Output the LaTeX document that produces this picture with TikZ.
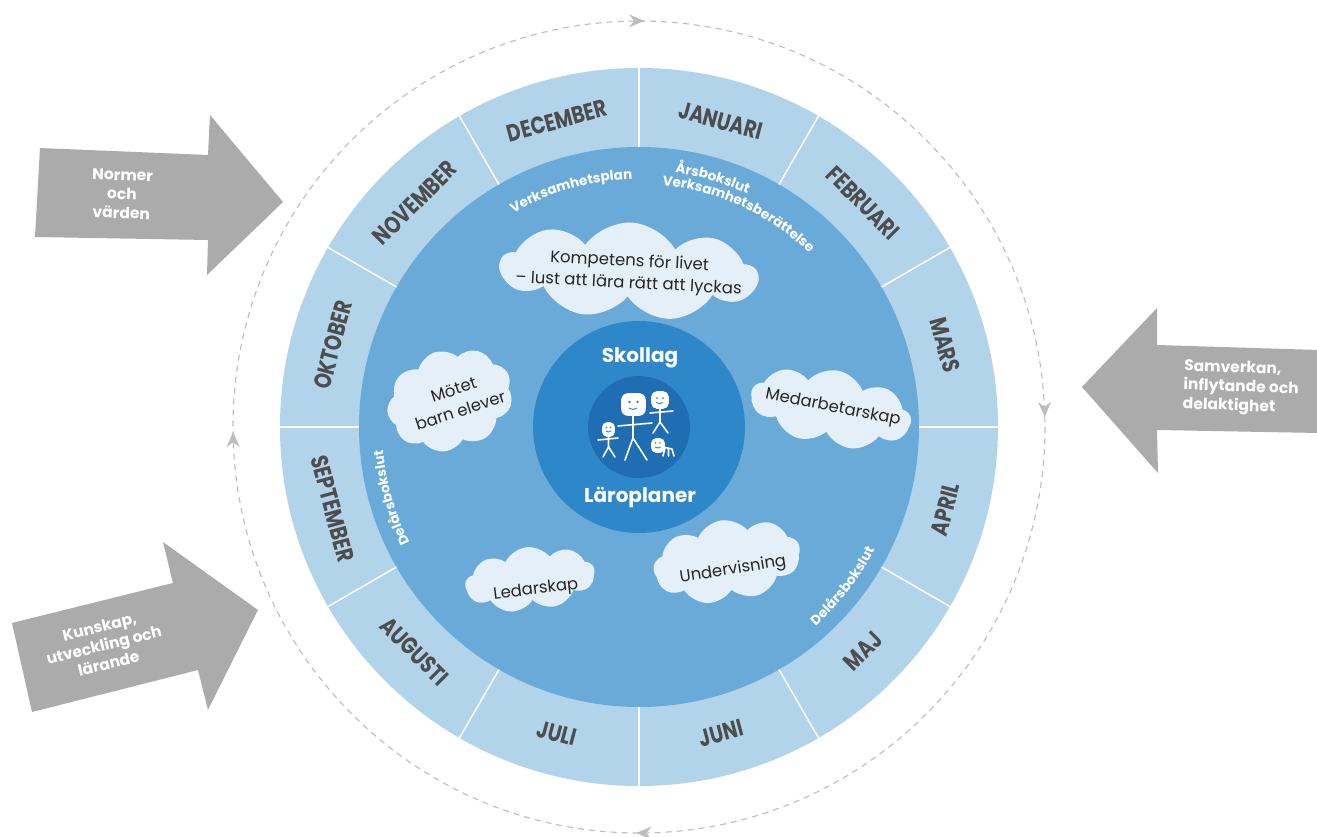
\documentclass[tikz,border=0pt]{standalone}
\usepackage{fontspec}
\usepackage{graphicx}
\setmainfont{Poppins}
\usetikzlibrary{shapes.symbols,decorations.text,decorations.markings,arrows.meta}

\definecolor{ringblue}{HTML}{B2D4EA}
\definecolor{midblue}{HTML}{6AAAD8}
\definecolor{coreblue}{HTML}{2E87C8}
\definecolor{deepblue}{HTML}{1F6DB3}
\definecolor{cloudwhite}{HTML}{E4EFF8}
\definecolor{monthgray}{HTML}{4D4D4D}
\definecolor{arrowgray}{HTML}{ABABAB}
\definecolor{dashgray}{HTML}{BDBDBD}

\newcommand\labelfont{\bfseries\fontsize{13.5}{14}\selectfont}

\tikzset{
  month/.style={font=\bfseries\fontsize{24}{24}\selectfont, text=monthgray},
  puff/.style={cloud, cloud puffs=9, cloud puff arc=115, cloud ignores aspect, fill=cloudwhite, draw=none, inner sep=0pt},
  cloudtext/.style={font=\fontsize{16.5}{22}\selectfont, align=center, text=black!85},
  arrowtext/.style={font=\bfseries\fontsize{15.5}{19}\selectfont, text=white},
  coretext/.style={font=\bfseries\fontsize{20}{22}\selectfont, text=white},
  ringlabel/.style={decorate, decoration={text along path, text align=center, text color=white, text={|\labelfont|#1}}},
  stick/.style={white, line width=1.6pt, line cap=round, line join=round},
  face/.style={coreblue, line width=0.9pt, line cap=round}
}

\begin{document}
\begin{tikzpicture}[x=1pt, y=1pt]
  \useasboundingbox (-639,-409) rectangle (678,427);
  \fill[white] (-639,-409) rectangle (678,427);

  % outer dashed cycle
  \draw[dashgray, line width=1.1pt, dash pattern=on 6pt off 5pt,
    postaction={decorate}, decoration={markings,
      mark=at position 0.002 with {\arrow{Stealth[length=15pt, width=13pt, inset=5pt]}},
      mark=at position 0.246 with {\arrow{Stealth[length=15pt, width=13pt, inset=5pt]}},
      mark=at position 0.501 with {\arrow{Stealth[length=15pt, width=13pt, inset=5pt]}},
      mark=at position 0.748 with {\arrow{Stealth[length=15pt, width=13pt, inset=5pt]}}}]
    (90:406pt) arc[start angle=90, end angle=-270, radius=406pt];

  % the wheel
  \fill[ringblue] (0,0) circle[radius=359pt];
  \fill[midblue] (0,0) circle[radius=280pt];
  \fill[coreblue] (0,0) circle[radius=106pt];
  \fill[deepblue] (0,0) circle[radius=51pt];
  \foreach \a in {0,30,...,330}
    \draw[white, line width=1.5pt] (\a:280pt) -- (\a:359pt);

  % months
  \foreach \mname/\ang/\rot [count=\i] in {DECEMBER/105/15, JANUARI/75/-15, FEBRUARI/45/-45,
      MARS/15/-75, APRIL/-15/75, MAJ/-45/45, JUNI/-75/15, JULI/-105/-15,
      AUGUSTI/-135/-45, SEPTEMBER/-165/-75, OKTOBER/165/75, NOVEMBER/135/45}
    \node[month, rotate=\rot] (month\i) at (\ang:317pt) {\scalebox{0.8}[1]{\mname}};

  % labels along the inner edge
  \path[ringlabel=Verksamhetsplan] (126:248pt) arc[start angle=126, end angle=86, radius=248pt];
  \path[ringlabel=Årsbokslut] (90:257pt) arc[start angle=90, end angle=57, radius=257pt];
  \path[ringlabel=Verksamhetsberättelse] (92:243pt) arc[start angle=92, end angle=38, radius=243pt];
  \path[ringlabel=Delårsbokslut] (216:257pt) arc[start angle=216, end angle=176, radius=257pt];
  \path[ringlabel=Delårsbokslut] (-58:266pt) arc[start angle=-58, end angle=-18, radius=266pt];

  % clouds
  \node[puff, rotate=-3, minimum width=257pt, minimum height=97pt] (livetCloud) at (-10,156) {};
  \node[puff, rotate=18, minimum width=128pt, minimum height=100pt] (motetCloud) at (-189,27) {};
  \node[puff, rotate=-11, minimum width=162pt, minimum height=76pt] (medarbCloud) at (192,19) {};
  \node[puff, rotate=9, minimum width=148pt, minimum height=82pt] (underCloud) at (88,-134) {};
  \node[puff, rotate=7, minimum width=130pt, minimum height=64pt] (ledarCloud) at (-109,-152) {};

  \node[cloudtext, rotate=-3] (livet) at (-10,154) {Kompetens för livet\\– lust att lära rätt att lyckas};
  \node[cloudtext, rotate=18] (motet) at (-182,27) {Mötet\\barn elever};
  \node[cloudtext, rotate=-11] (medarb) at (194,19) {Medarbetarskap};
  \node[cloudtext, rotate=9] (under) at (94,-143) {Undervisning};
  \node[cloudtext, rotate=7] (ledar) at (-103,-163) {Ledarskap};

  % centre
  \node[coretext] (skollag) at (1,69) {Skollag};
  \node[coretext] (laroplaner) at (1,-70) {Läroplaner};

  % the family
  \draw[stick] (-21,1) -- (13,4);
  \draw[stick] (-6,12) -- (-6,-11) -- (-14,-33) (-6,-11) -- (8,-33);
  \filldraw[stick, rounded corners=6pt] (-17,12) rectangle (6,33);
  \draw[stick] (11,14) -- (34,16);
  \draw[stick] (21,19) -- (21,5) -- (14,-6) (21,5) -- (29,-6);
  \filldraw[stick, rounded corners=5pt] (13,19) rectangle (29,35);
  \draw[stick] (-41,-13) -- (-21,-11);
  \draw[stick] (-30.5,-9) -- (-30.5,-20) -- (-36,-30) (-30.5,-20) -- (-24,-30);
  \filldraw[stick, rounded corners=4pt] (-36,-9) rectangle (-25,4);
  \draw[stick] (24,-20) -- (33,-22) (26,-21) -- (24,-29) (29.5,-21.5) -- (29.5,-29) (33,-22) -- (35,-29);
  \filldraw[stick, rounded corners=4pt] (13,-25) rectangle (25,-12);
  % faces
  \fill[coreblue] (-9.5,25) circle[radius=1.3pt] (-1.5,25) circle[radius=1.3pt];
  \draw[face] (-10,19) to[bend right=40] (-2,19);
  \fill[coreblue] (18,29) circle[radius=1pt] (24,29) circle[radius=1pt];
  \draw[face] (17.5,24.5) to[bend right=40] (24,24.5);
  \fill[coreblue] (-32.5,-0.5) circle[radius=0.9pt] (-28.5,-0.5) circle[radius=0.9pt];
  \draw[face] (-33,-4) to[bend right=40] (-28,-4);
  \fill[coreblue] (16.5,-16) circle[radius=0.9pt] (21,-16) circle[radius=0.9pt];
  \draw[face] (16,-20) to[bend right=40] (21.5,-20);

  % grey arrows
  \fill[arrowgray] (-599,279) -- (-431,272) -- (-429,312) -- (-356,225) -- (-432,152) -- (-431,187) -- (-604,190) -- cycle;
  \node[arrowtext, align=center, rotate=-2] (normer) at (-517,233) {Normer\\och\\värden};

  \fill[arrowgray] (-627,-196) -- (-466,-156) -- (-476,-115) -- (-381,-183) -- (-431,-283) -- (-441,-243) -- (-607,-285) -- cycle;
  \node[arrowtext, align=center, rotate=14] (kunskap) at (-535,-218) {Kunskap,\\utveckling och\\lärande};

  \fill[arrowgray] (518,119) -- (443,40) -- (519,-46) -- (518,-3) -- (680,-6) -- (680,77) -- (518,82) -- cycle;
  \node[arrowtext, align=left, rotate=-2, anchor=west] (samverkan) at (541,41) {Samverkan,\\inflytande och\\delaktighet};
\end{tikzpicture}
\end{document}
